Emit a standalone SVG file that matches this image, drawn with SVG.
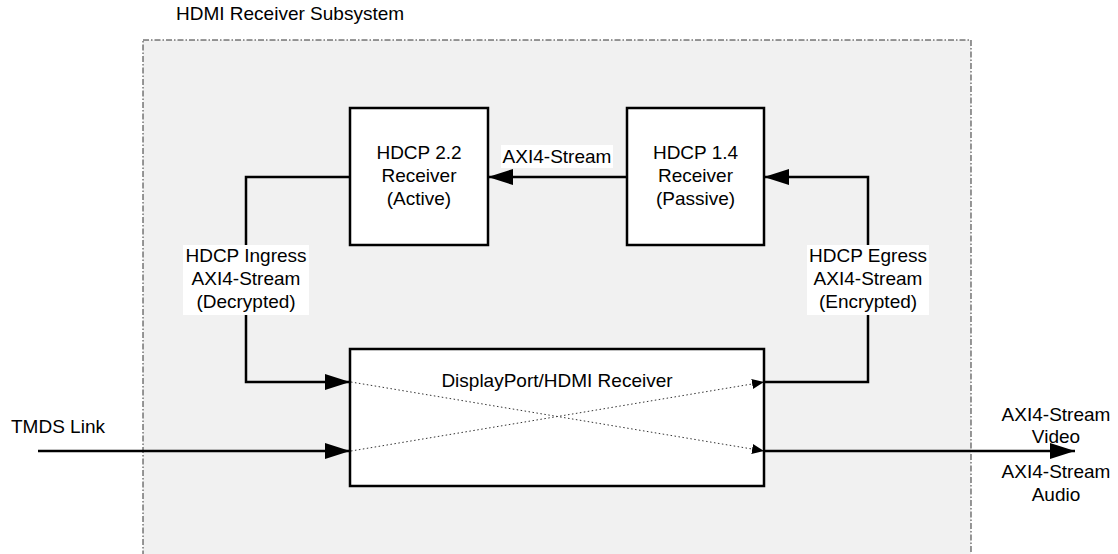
<svg xmlns="http://www.w3.org/2000/svg" width="1118" height="554" viewBox="0 0 1118 554">
<style>
text{font-family:"Liberation Sans",Arial,sans-serif;font-size:19px;fill:#000}
.c{text-anchor:middle}
.box{fill:#fff;stroke:#000;stroke-width:2.5}
.wire{fill:none;stroke:#000;stroke-width:2.5}
.dot{fill:none;stroke:#333;stroke-width:1;stroke-dasharray:1.5,2.5}
.lbl{fill:#fff}
</style>
<defs>
<marker id="ah" markerUnits="userSpaceOnUse" markerWidth="25" markerHeight="16" refX="25" refY="8" orient="auto">
<path d="M0,0 L25,8 L0,16 z" fill="#000"/>
</marker>
<marker id="sh" markerUnits="userSpaceOnUse" markerWidth="12" markerHeight="10" refX="12" refY="5" orient="auto">
<path d="M0,0 L12,5 L0,10 z" fill="#000"/>
</marker>
</defs>
<rect width="1118" height="554" fill="#fff"/>
<g id="subsystem">
<rect x="143" y="40" width="828" height="540" fill="#f1f1f1" stroke="#333" stroke-width="1" stroke-dasharray="6,2,1.5,2"/>
<text x="176" y="20">HDMI Receiver Subsystem</text>
</g>
<g id="hdcp22">
<rect class="box" x="350" y="108" width="138" height="137"/>
<text class="c" x="419" y="159">HDCP 2.2</text>
<text class="c" x="419" y="182">Receiver</text>
<text class="c" x="419" y="205">(Active)</text>
</g>
<g id="hdcp14">
<rect class="box" x="627" y="108" width="137" height="137"/>
<text class="c" x="695.5" y="159">HDCP 1.4</text>
<text class="c" x="695.5" y="182">Receiver</text>
<text class="c" x="695.5" y="205">(Passive)</text>
</g>
<g id="dprx">
<rect class="box" x="350" y="349" width="414" height="137"/>
<text class="c" x="557" y="387">DisplayPort/HDMI Receiver</text>
</g>
<g id="connectors">
<path class="wire" d="M627,177 L488,177" marker-end="url(#ah)"/>
<path class="wire" d="M350,177 L246,177 L246,382 L350,382" marker-end="url(#ah)"/>
<path class="wire" d="M764,382 L868,382 L868,177 L764,177" marker-end="url(#ah)"/>
<path class="wire" d="M38,451 L350,451" marker-end="url(#ah)"/>
<path class="wire" d="M764,451 L1075,451" marker-end="url(#ah)"/>
<path class="dot" d="M351,382 L764,451" marker-end="url(#sh)"/>
<path class="dot" d="M351,451 L764,382" marker-end="url(#sh)"/>
<rect class="lbl" x="501" y="145" width="112" height="23"/>
<text class="c" x="557" y="163">AXI4-Stream</text>
<rect class="lbl" x="183" y="245" width="126" height="70"/>
<text class="c" x="246" y="262">HDCP Ingress</text>
<text class="c" x="246" y="285">AXI4-Stream</text>
<text class="c" x="246" y="308">(Decrypted)</text>
<rect class="lbl" x="807" y="245" width="122" height="70"/>
<text class="c" x="868" y="262">HDCP Egress</text>
<text class="c" x="868" y="285">AXI4-Stream</text>
<text class="c" x="868" y="308">(Encrypted)</text>
<text x="11" y="433">TMDS Link</text>
<text class="c" x="1056" y="421">AXI4-Stream</text>
<text class="c" x="1056" y="443">Video</text>
<text class="c" x="1056" y="478">AXI4-Stream</text>
<text class="c" x="1056" y="501">Audio</text>
</g>
</svg>
